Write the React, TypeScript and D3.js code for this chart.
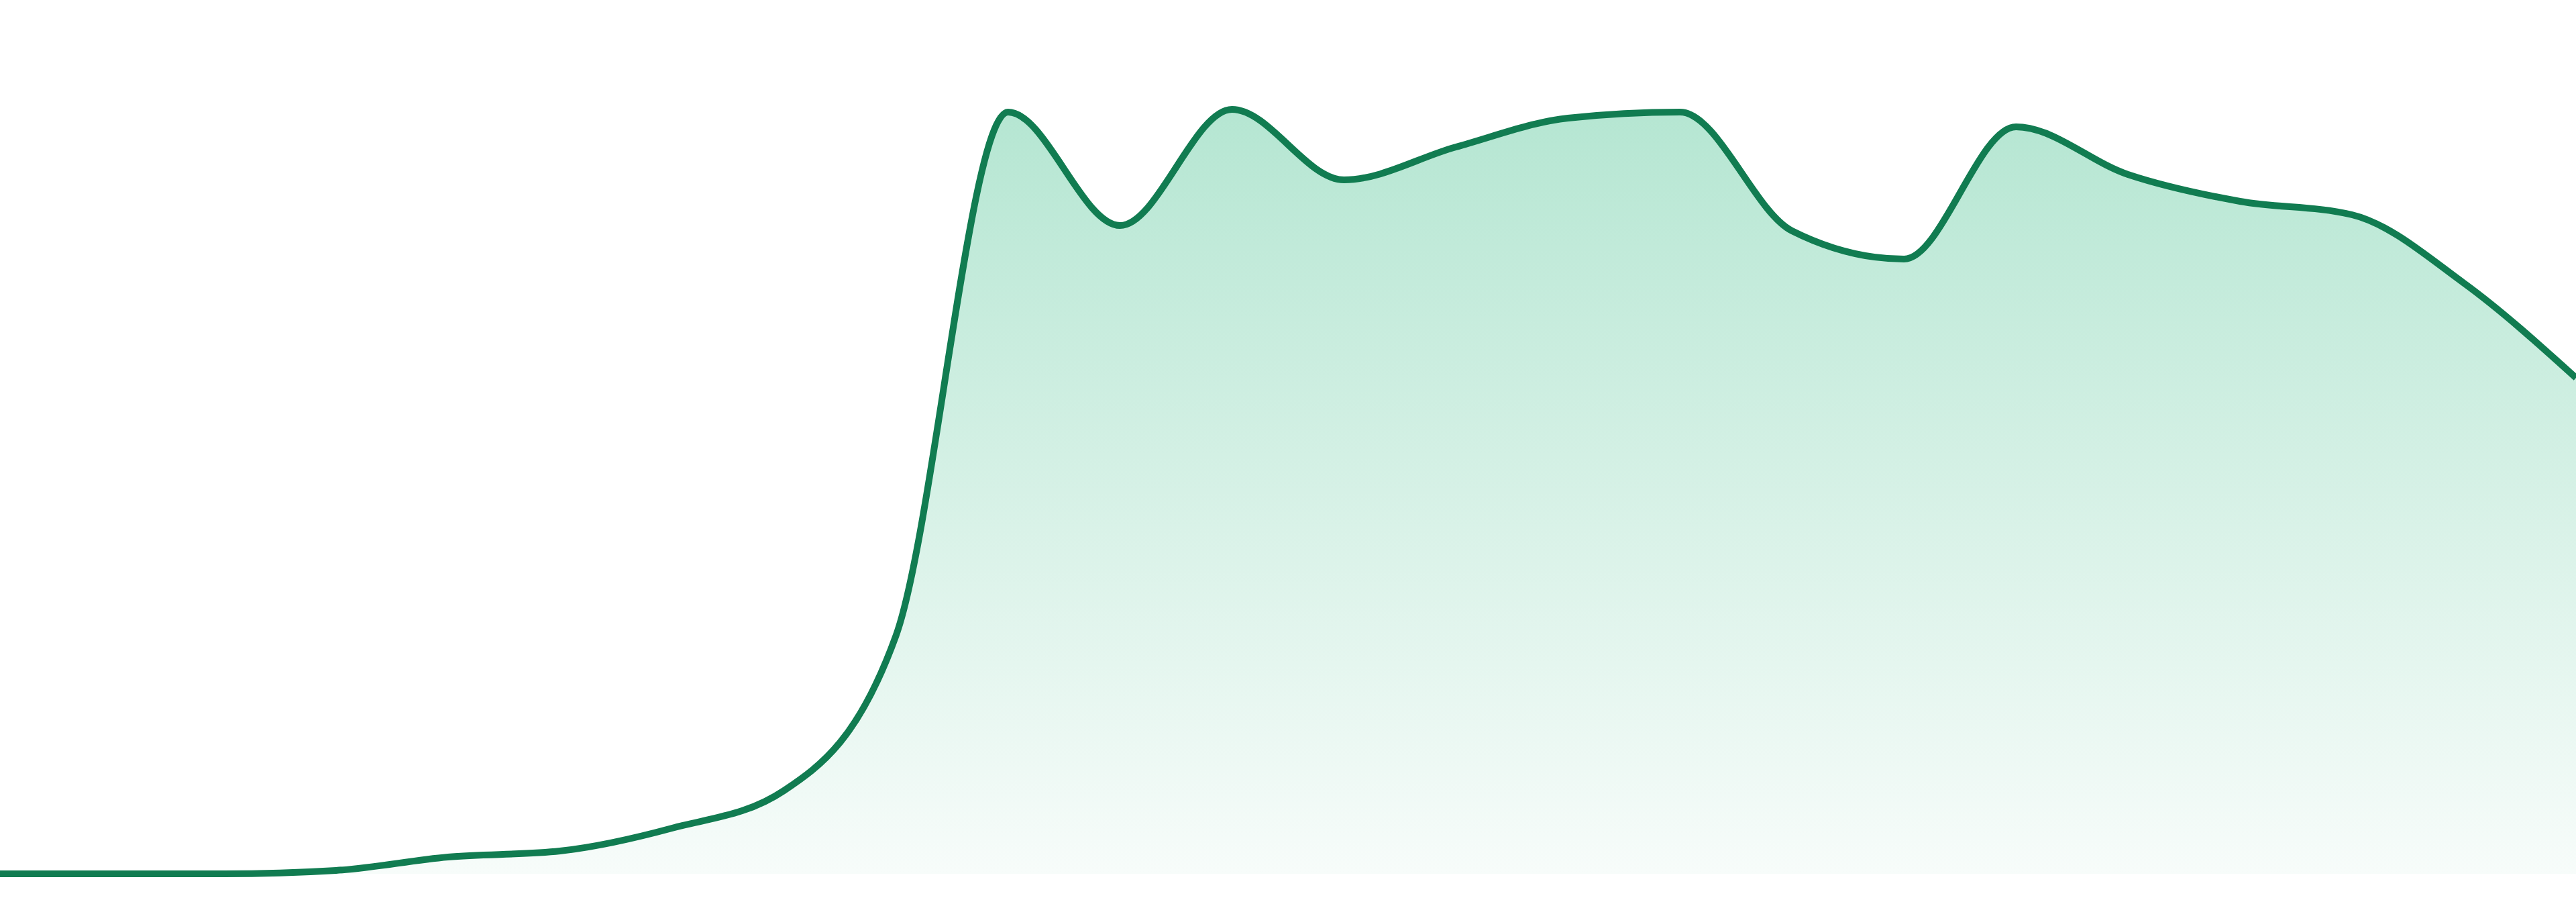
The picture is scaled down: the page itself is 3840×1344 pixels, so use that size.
import React, { useRef, useEffect } from "react";
import * as d3 from "d3";

// one value per evenly spaced sample
const values: number[] = [
  0, 0, 0, 5, 25, 34, 68, 124, 355, 1135, 966, 1139,
  1034, 1083, 1126, 1135, 958, 916, 1113, 1042, 1002, 982, 880, 739,
];

const WIDTH = 3840;
const HEIGHT = 1344;

const App: React.FC = () => {
  const svgRef = useRef<SVGSVGElement>(null);

  useEffect(() => {
    document.body.style.margin = "0";

    const svg = d3.select(svgRef.current);
    svg.selectAll("*").remove();

    const x = d3.scaleLinear().domain([0, values.length - 1]).range([0, WIDTH]);
    const y = d3.scaleLinear().domain([0, 1150]).range([1302, 152]);

    const defs = svg.append("defs");
    const grad = defs.append("linearGradient")
      .attr("id", "areaFill")
      .attr("x1", 0).attr("y1", 0)
      .attr("x2", 0).attr("y2", 1);
    grad.append("stop").attr("offset", "0%").attr("stop-color", "#b5e6d2");
    grad.append("stop").attr("offset", "100%").attr("stop-color", "#f7fcfa");

    const area = d3.area<number>()
      .curve(d3.curveMonotoneX)
      .x((_, i) => x(i))
      .y0(y(0))
      .y1(d => y(d));

    const line = d3.line<number>()
      .curve(d3.curveMonotoneX)
      .x((_, i) => x(i))
      .y(d => y(d));

    svg.append("path")
      .datum(values)
      .attr("fill", "url(#areaFill)")
      .attr("d", area);

    svg.append("path")
      .datum(values)
      .attr("fill", "none")
      .attr("stroke", "#117c51")
      .attr("stroke-width", 10)
      .attr("stroke-linejoin", "round")
      .attr("d", line);
  }, []);

  return <svg ref={svgRef} width={WIDTH} height={HEIGHT} style={{ display: "block" }}></svg>;
};

export default App;
